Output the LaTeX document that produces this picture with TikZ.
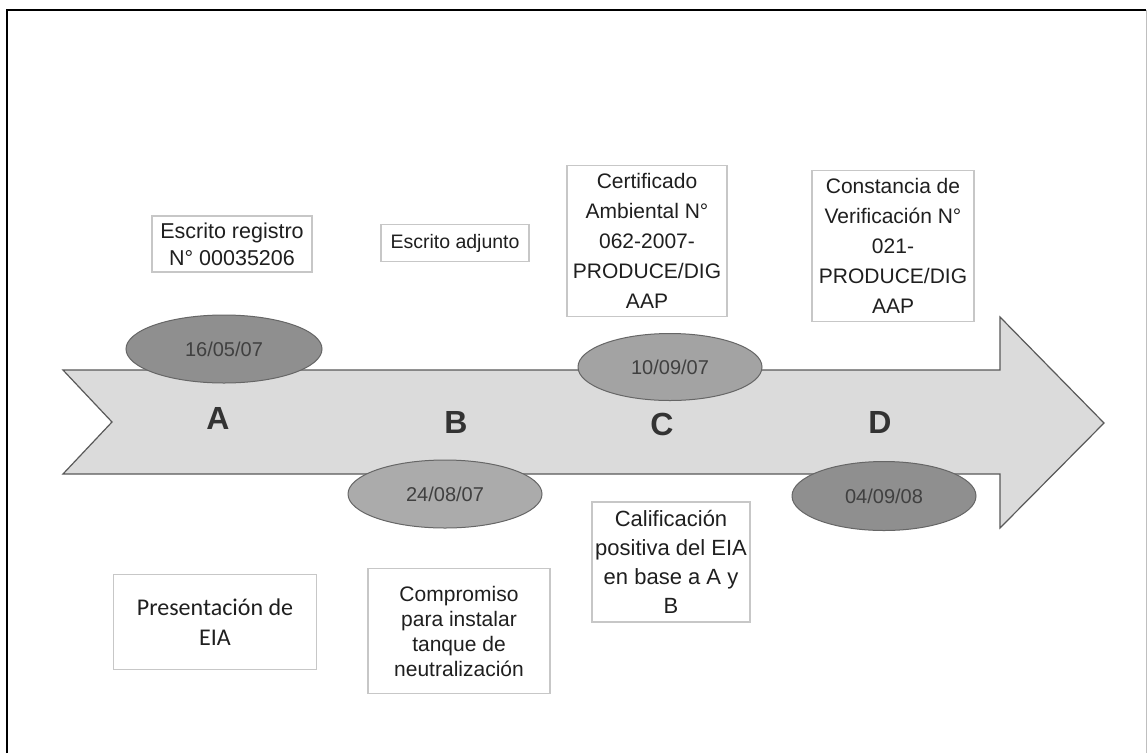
\documentclass[tikz,border=0pt]{standalone}
\usepackage{fontspec}
\setmainfont{Liberation Sans}
\newfontfamily\calfont{Carlito}
\usetikzlibrary{shapes.geometric}
\begin{document}
\begin{tikzpicture}[x=1pt,y=-1pt,
  txtbox/.style={draw=black!22, line width=1.3pt, fill=white, align=center, inner sep=0pt, text=black!88},
  datell/.style={ellipse, draw=black!60, line width=1pt, inner sep=0pt, text=black!75, font=\fontsize{20}{22}\selectfont},
  letter/.style={font=\fontsize{32}{34}\selectfont\bfseries, text=black!80},
  arrowbody/.style={fill=black!14, draw=black!65, line width=1.2pt, line join=miter}
]
\useasboundingbox (0,0) rectangle (1147,753);
\fill[white] (0,0) rectangle (1147,753);
% frame
\draw[line width=2pt, black] (7,753) -- (7,10) -- (1146,10);
\draw[line width=0.6pt, black!25] (1146,10) -- (1146,753);
% big arrow
\draw[arrowbody] (63,370) -- (1000,370) -- (1000,317) -- (1104,423) -- (1000,528) -- (1000,474) -- (63,474) -- (112,422) -- cycle;
% date ellipses
\node[datell, fill=black!44, minimum width=196, minimum height=68] (e1) at (224,349) {16/05/07};
\node[datell, fill=black!33, minimum width=194, minimum height=68] (e2) at (445,494) {24/08/07};
\node[datell, fill=black!36, minimum width=184, minimum height=67] (e3) at (670,367) {10/09/07};
\node[datell, fill=black!44, minimum width=184, minimum height=69] (e4) at (884,496) {04/09/08};
% letters
\node[letter] (la) at (218,418) {A};
\node[letter] (lb) at (456,422) {B};
\node[letter] (lc) at (662,424) {C};
\node[letter] (ld) at (880,422) {D};
% text boxes
\node[txtbox, minimum width=160, minimum height=56, font=\fontsize{21.5}{27}\selectfont] (b1) at (232,244) {Escrito registro\\N° 00035206};
\node[txtbox, minimum width=148, minimum height=37, font=\fontsize{19.5}{22}\selectfont] (b2) at (455,243) {Escrito adjunto};
\node[txtbox, minimum width=160, minimum height=151, font=\fontsize{21}{30}\selectfont] (b3) at (647,241) {Certificado\\Ambiental N°\\062-2007-\\PRODUCE/DIG\\AAP};
\node[txtbox, minimum width=162, minimum height=151, font=\fontsize{21}{30}\selectfont] (b4) at (893,246) {Constancia de\\Verificación N°\\021-\\PRODUCE/DIG\\AAP};
\node[txtbox, minimum width=203, minimum height=95, font=\calfont\fontsize{24}{30}\selectfont] (b5) at (215,622) {Presentación de\\EIA};
\node[txtbox, minimum width=182, minimum height=125, font=\fontsize{21}{25}\selectfont] (b6) at (459,631) {Compromiso\\para instalar\\tanque de\\neutralización};
\node[txtbox, minimum width=158, minimum height=120, font=\fontsize{22}{29}\selectfont] (b7) at (671,562) {Calificación\\positiva del EIA\\en base a A y\\B};
\end{tikzpicture}
\end{document}
